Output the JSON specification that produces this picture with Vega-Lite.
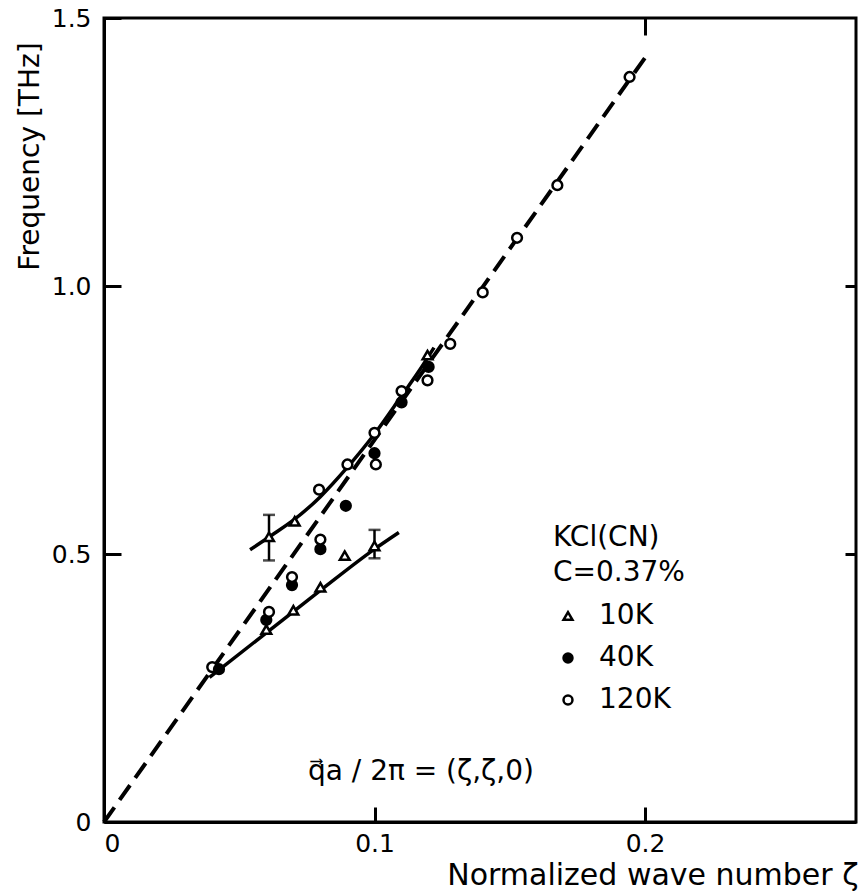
{
  "$schema": "https://vega.github.io/schema/vega-lite/v6.json",
  "width": 752,
  "height": 804,
  "autosize": "none",
  "padding": {"left": 104, "top": 18, "right": 4, "bottom": 70},
  "background": "white",
  "config": {
    "view": {"stroke": "black", "strokeWidth": 3},
    "font": "DejaVu Sans",
    "axis": {
      "grid": false,
      "domainColor": "black",
      "domainWidth": 3,
      "tickColor": "black",
      "tickWidth": 3,
      "labelColor": "black",
      "titleColor": "black",
      "labelFont": "DejaVu Sans",
      "titleFont": "DejaVu Sans",
      "labelFontSize": 25,
      "titleFontSize": 29,
      "titleFontWeight": "normal"
    }
  },
  "datasets": {
    "dash": [{"x": 0, "y": 0}, {"x": 0.2017, "y": 1.438}],
    "curves": [
      {"g": "u", "x": 0.054, "y": 0.508},
      {"g": "u", "x": 0.062, "y": 0.535},
      {"g": "u", "x": 0.070, "y": 0.563},
      {"g": "u", "x": 0.080, "y": 0.607},
      {"g": "u", "x": 0.090, "y": 0.662},
      {"g": "u", "x": 0.100, "y": 0.724},
      {"g": "u", "x": 0.110, "y": 0.795},
      {"g": "u", "x": 0.116, "y": 0.838},
      {"g": "u", "x": 0.122, "y": 0.885},
      {"g": "l", "x": 0.039, "y": 0.270},
      {"g": "l", "x": 0.060, "y": 0.353},
      {"g": "l", "x": 0.080, "y": 0.432},
      {"g": "l", "x": 0.100, "y": 0.509},
      {"g": "l", "x": 0.109, "y": 0.540}
    ],
    "errs": [
      {"x": 0.061, "lo": 0.488, "hi": 0.573},
      {"x": 0.100, "lo": 0.492, "hi": 0.545}
    ],
    "caps": [
      {"x": 0.061, "y": 0.488},
      {"x": 0.061, "y": 0.573},
      {"x": 0.100, "y": 0.492},
      {"x": 0.100, "y": 0.545}
    ],
    "pts": [
      {"x": 0.040, "y": 0.289, "T": "120K"},
      {"x": 0.0425, "y": 0.285, "T": "40K"},
      {"x": 0.060, "y": 0.359, "T": "10K"},
      {"x": 0.060, "y": 0.377, "T": "40K"},
      {"x": 0.061, "y": 0.392, "T": "120K"},
      {"x": 0.070, "y": 0.395, "T": "10K"},
      {"x": 0.0695, "y": 0.442, "T": "40K"},
      {"x": 0.0695, "y": 0.457, "T": "120K"},
      {"x": 0.080, "y": 0.438, "T": "10K"},
      {"x": 0.080, "y": 0.509, "T": "40K"},
      {"x": 0.080, "y": 0.527, "T": "120K"},
      {"x": 0.089, "y": 0.497, "T": "10K"},
      {"x": 0.0894, "y": 0.590, "T": "40K"},
      {"x": 0.100, "y": 0.515, "T": "10K"},
      {"x": 0.061, "y": 0.532, "T": "10K"},
      {"x": 0.0705, "y": 0.561, "T": "10K"},
      {"x": 0.0795, "y": 0.620, "T": "120K"},
      {"x": 0.090, "y": 0.667, "T": "120K"},
      {"x": 0.100, "y": 0.726, "T": "120K"},
      {"x": 0.100, "y": 0.688, "T": "40K"},
      {"x": 0.1005, "y": 0.667, "T": "120K"},
      {"x": 0.110, "y": 0.804, "T": "120K"},
      {"x": 0.110, "y": 0.783, "T": "40K"},
      {"x": 0.1196, "y": 0.871, "T": "10K"},
      {"x": 0.120, "y": 0.849, "T": "40K"},
      {"x": 0.1196, "y": 0.824, "T": "120K"},
      {"x": 0.128, "y": 0.892, "T": "120K"},
      {"x": 0.140, "y": 0.988, "T": "120K"},
      {"x": 0.1527, "y": 1.090, "T": "120K"},
      {"x": 0.1676, "y": 1.188, "T": "120K"},
      {"x": 0.1943, "y": 1.390, "T": "120K"}
    ],
    "notes": [
      {"x": 0.0754, "y": 0.093, "label": "q⃗a / 2π = (ζ,ζ,0)"}
    ]
  },
  "layer": [
    {
      "data": {"name": "dash"},
      "mark": {"type": "line", "color": "black", "strokeWidth": 4, "strokeDash": [18, 9]},
      "encoding": {
        "x": {
          "field": "x", "type": "quantitative",
          "scale": {"domain": [0, 0.278], "nice": false, "zero": false},
          "axis": {
            "orient": "bottom",
            "values": [0, 0.1, 0.2],
            "labelExpr": "datum.value == 0 ? '0' : format(datum.value, '.1f')",
            "ticks": true,
            "tickSize": -15,
            "labelPadding": 24,
            "title": "Normalized wave number ζ",
            "titleX": 754,
            "titleY": 53,
            "titleAlign": "right",
            "titleBaseline": "middle",
            "titleFontSize": 30
          }
        },
        "y": {
          "field": "y", "type": "quantitative",
          "scale": {"domain": [0, 1.5], "nice": false, "zero": false},
          "axis": {
            "orient": "left",
            "values": [0, 0.5, 1.0, 1.5],
            "labelExpr": "datum.value == 0 ? '0' : format(datum.value, '.1f')",
            "ticks": true,
            "tickSize": -17,
            "labelPadding": 30,
            "title": "Frequency [THz]",
            "titleX": -74,
            "titleY": 138,
            "titleAngle": -90,
            "titleAlign": "center",
            "titleBaseline": "middle",
            "titleFontSize": 28
          }
        }
      }
    },
    {
      "data": {"name": "curves"},
      "mark": {"type": "line", "color": "black", "strokeWidth": 3.5, "interpolate": "monotone"},
      "encoding": {
        "x": {"field": "x", "type": "quantitative", "axis": {"orient": "top", "values": [0.2], "ticks": true, "tickSize": -17, "labels": true, "labelExpr": "''", "labelOpacity": 0, "domain": false, "title": null}},
        "y": {"field": "y", "type": "quantitative", "axis": {"orient": "right", "values": [0.5, 1.0], "ticks": true, "tickSize": -11, "labels": true, "labelExpr": "''", "labelOpacity": 0, "labelPadding": -40, "domain": false, "title": null}},
        "detail": {"field": "g"}
      }
    },
    {
      "data": {"name": "errs"},
      "mark": {"type": "rule", "color": "black", "strokeWidth": 2.5},
      "encoding": {
        "x": {"field": "x", "type": "quantitative", "axis": null},
        "y": {"field": "lo", "type": "quantitative", "axis": null},
        "y2": {"field": "hi"}
      }
    },
    {
      "data": {"name": "caps"},
      "mark": {"type": "tick", "orient": "horizontal", "color": "black", "thickness": 2.5, "size": 12},
      "encoding": {
        "x": {"field": "x", "type": "quantitative", "axis": null},
        "y": {"field": "y", "type": "quantitative", "axis": null}
      }
    },
    {
      "data": {"name": "pts"},
      "mark": {"type": "point", "filled": true, "stroke": "black", "strokeWidth": 2.5, "size": 95, "opacity": 1},
      "encoding": {
        "x": {"field": "x", "type": "quantitative", "axis": null},
        "y": {"field": "y", "type": "quantitative", "axis": null},
        "shape": {
          "field": "T", "type": "nominal",
          "scale": {"domain": ["10K", "40K", "120K"], "range": ["triangle-up", "circle", "circle"]},
          "legend": {
            "title": ["KCl(CN)", "C=0.37%"],
            "orient": "none",
            "legendX": 449,
            "legendY": 506,
            "titleFont": "DejaVu Sans",
            "titleFontSize": 28,
            "titleFontWeight": "normal",
            "titleColor": "black",
            "titleLineHeight": 35,
            "titlePadding": 15,
            "labelFont": "DejaVu Sans",
            "labelFontSize": 28,
            "labelColor": "black",
            "labelOffset": 17,
            "symbolOffset": 1,
            "symbolSize": 80,
            "symbolStrokeWidth": 2.5,
            "rowPadding": 14,
            "encode": {"symbols": {"stroke": {"value": "black"}, "strokeWidth": {"value": 2.5}}}
          }
        },
        "fill": {
          "field": "T", "type": "nominal",
          "scale": {"domain": ["10K", "40K", "120K"], "range": ["white", "black", "white"]},
          "legend": {
            "title": ["KCl(CN)", "C=0.37%"],
            "orient": "none",
            "legendX": 449,
            "legendY": 506,
            "titleFont": "DejaVu Sans",
            "titleFontSize": 28,
            "titleFontWeight": "normal",
            "titleColor": "black",
            "titleLineHeight": 35,
            "titlePadding": 15,
            "labelFont": "DejaVu Sans",
            "labelFontSize": 28,
            "labelColor": "black",
            "labelOffset": 17,
            "symbolOffset": 1,
            "symbolSize": 80,
            "symbolStrokeWidth": 2.5,
            "rowPadding": 14,
            "encode": {"symbols": {"stroke": {"value": "black"}, "strokeWidth": {"value": 2.5}}}
          }
        }
      }
    },
    {
      "data": {"name": "notes"},
      "mark": {"type": "text", "align": "left", "baseline": "middle", "fontSize": 28, "font": "DejaVu Sans", "color": "black"},
      "encoding": {
        "x": {"field": "x", "type": "quantitative", "axis": null},
        "y": {"field": "y", "type": "quantitative", "axis": null},
        "text": {"field": "label"}
      }
    }
  ],
  "resolve": {"axis": {"x": "independent", "y": "independent"}}
}
